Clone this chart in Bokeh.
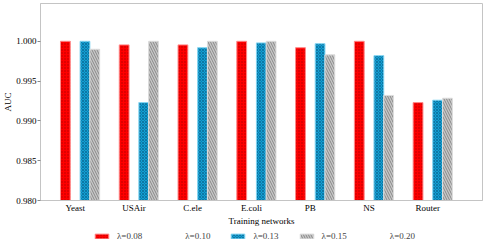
from bokeh.plotting import figure
from bokeh.layouts import column
from bokeh.models import Range1d, FixedTicker, Legend, LegendItem, ColumnDataSource, NumeralTickFormatter
from bokeh.embed import file_html
from bokeh.resources import INLINE

networks = ["Yeast", "USAir", "C.ele", "E.coli", "PB", "NS", "Router"]
series_labels = ["λ=0.08", "λ=0.10", "λ=0.13", "λ=0.15", "λ=0.20"]
auc_008 = [1.0000, 0.99955, 0.99955, 1.0000, 0.9992, 1.0000, 0.9923]
auc_010 = []
auc_013 = [1.0000, 0.9923, 0.9992, 0.9998, 0.9997, 0.9982, 0.9926]
auc_015 = [0.9990, 1.0000, 1.0000, 1.0000, 0.9983, 0.9932, 0.99285]
auc_020 = []

FONT = "Liberation Serif"
W = 1.0 / 6.0

p = figure(width=485, height=228, output_backend="svg", toolbar_location=None,
           x_range=Range1d(-0.59, 6.93), y_range=Range1d(0.980, 1.00475),
           min_border_left=31, min_border_right=3, min_border_top=3, min_border_bottom=22)
p.background_fill_color = "white"
p.border_fill_color = "white"
p.outline_line_color = "#c4c4c4"
p.xgrid.visible = False
p.ygrid.visible = False

styles = [
    dict(fill_color="#ff0000", line_color="#ff8a8a", hatch_pattern=".", hatch_color="#b00000",
         hatch_scale=3, hatch_weight=1.0),
    dict(fill_color="white", fill_alpha=0.0, line_color=None),
    dict(fill_color="#139fd4", line_color="#86d6f2", hatch_pattern="x", hatch_color="#0b6f99",
         hatch_scale=3, hatch_weight=0.8),
    dict(fill_color="#c8c8c8", line_color="#dddddd", hatch_pattern="\\", hatch_color="#777777",
         hatch_scale=5, hatch_weight=0.8),
    dict(fill_color="white", fill_alpha=0.0, line_color=None),
]
all_values = [auc_008, auc_010, auc_013, auc_015, auc_020]
offsets = [-1, 0, 1, 2, 3]

# legend-only strip below the chart (its ranges show none of the bars)
pl = figure(width=485, height=13, output_backend="svg", toolbar_location=None,
            x_range=Range1d(100, 101), y_range=Range1d(100, 101),
            x_axis_location=None, y_axis_location=None,
            min_border_left=0, min_border_right=0, min_border_top=0, min_border_bottom=0)
pl.xgrid.visible = False
pl.ygrid.visible = False
pl.outline_line_color = None
pl.background_fill_color = "white"
pl.border_fill_color = "white"

items = []
for lab, vals, off, st in zip(series_labels, all_values, offsets, styles):
    xs = [i + off * W for i in range(len(vals))]
    src = ColumnDataSource(dict(x=xs, top=vals))
    p.vbar(x="x", top="top", bottom=0, width=W, source=src, line_width=1, **st)
    proxy = pl.vbar(x="x", top="top", bottom=0, width=W, source=src, line_width=1, **st)
    items.append(LegendItem(label=lab, renderers=[proxy]))

p.xaxis.ticker = FixedTicker(ticks=list(range(len(networks))))
p.xaxis.major_label_overrides = {i: n for i, n in enumerate(networks)}
p.xaxis.major_tick_out = 0
p.xaxis.major_tick_in = 0
p.xaxis.minor_tick_out = 0
p.xaxis.major_label_standoff = 2
p.xaxis.axis_label = "Training networks"
p.xaxis.axis_label_standoff = 0

p.yaxis.ticker = FixedTicker(ticks=[0.980, 0.985, 0.990, 0.995, 1.000])
p.yaxis.formatter = NumeralTickFormatter(format="0.000")
p.yaxis.major_tick_out = 3
p.yaxis.major_tick_in = 0
p.yaxis.minor_tick_out = 0
p.yaxis.minor_tick_in = 0
p.yaxis.major_label_standoff = 1
p.yaxis.axis_label = "AUC"
p.yaxis.axis_label_standoff = 0

for ax in (p.xaxis, p.yaxis):
    ax.axis_line_color = "#c4c4c4"
    ax.major_tick_line_color = "#888888"
    ax.major_label_text_font = FONT
    ax.major_label_text_font_size = "9px"
    ax.major_label_text_color = "black"
    ax.axis_label_text_font = FONT
    ax.axis_label_text_font_size = "9px"
    ax.axis_label_text_font_style = "normal"
    ax.axis_label_text_color = "black"

legend = Legend(items=items, orientation="horizontal", location=(53, 0),
                border_line_color=None, background_fill_alpha=0,
                glyph_width=17, glyph_height=6, label_standoff=7, spacing=19,
                label_height=9, padding=1, margin=0,
                label_text_font=FONT, label_text_font_size="9px")
pl.add_layout(legend, "center")

layout = column(p, pl, spacing=0)
open("out.html", "w").write(file_html(layout, INLINE))
